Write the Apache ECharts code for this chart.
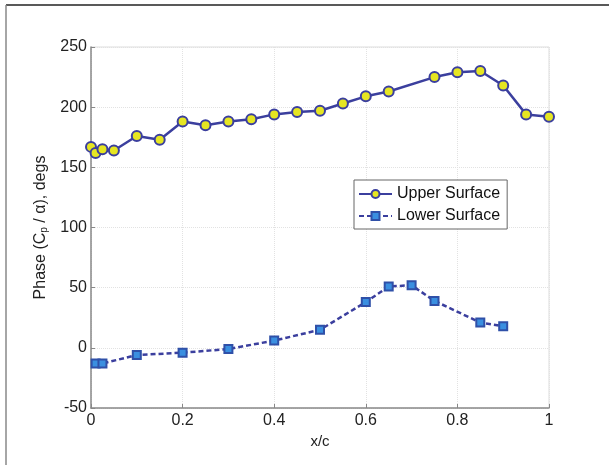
<!DOCTYPE html>
<html>
<head>
<meta charset="utf-8">
<script src="https://cdn.jsdelivr.net/npm/echarts@6/dist/echarts.min.js"></script>
<style>
  html, body { margin: 0; padding: 0; background: #fff; }
  #chart { width: 609px; height: 465px; }
</style>
</head>
<body>
<div id="chart"></div>
<script>
  // values
  var upperX = [0, 0.01, 0.025, 0.05, 0.1, 0.15, 0.2, 0.25, 0.3, 0.35, 0.4, 0.45, 0.5, 0.55, 0.6, 0.65, 0.75, 0.8, 0.85, 0.9, 0.95, 1.0];
  var upperY = [167, 162, 165, 164, 176, 173, 188, 185, 188, 190, 194, 196, 197, 203, 209, 213, 225, 229, 230, 218, 194, 192];
  var lowerX = [0.01, 0.025, 0.1, 0.2, 0.3, 0.4, 0.5, 0.6, 0.65, 0.7, 0.75, 0.85, 0.9];
  var lowerY = [-13, -13, -6, -4, -1, 6, 15, 38, 51, 52, 39, 21, 18];
  var xTicks = [0, 0.2, 0.4, 0.6, 0.8, 1];
  var yTicks = [-50, 0, 50, 100, 150, 200, 250];

  function pairs(xs, ys) {
    return xs.map(function (x, i) { return [x, ys[i]]; });
  }

  var chart = echarts.init(document.getElementById('chart'));
  var font = 'Liberation Sans, Arial, sans-serif';

  var option = {
    backgroundColor: '#fff',
    animation: false,
    textStyle: { fontFamily: font },
    grid: { left: 91, top: 47, right: 60, bottom: 57 },
    graphic: [
      { type: 'line', shape: { x1: 6, y1: 5, x2: 609, y2: 5 }, style: { stroke: '#222', lineWidth: 1.5 } },
      { type: 'line', shape: { x1: 6, y1: 5, x2: 6, y2: 465 }, style: { stroke: '#888', lineWidth: 1.5 } },
      { type: 'line', shape: { x1: 91, y1: 47, x2: 549, y2: 47 }, style: { stroke: '#ddd', lineWidth: 1 } },
      { type: 'line', shape: { x1: 549, y1: 47, x2: 549, y2: 408 }, style: { stroke: '#ddd', lineWidth: 1 } }
    ],
    legend: {
      orient: 'vertical',
      left: 354,
      top: 180,
      padding: [6, 7, 5, 4],
      itemGap: 6,
      itemWidth: 33,
      itemHeight: 10,
      borderColor: '#666',
      borderWidth: 1,
      backgroundColor: '#fff',
      textStyle: { fontSize: 16, color: '#111', fontFamily: font },
      data: ['Upper Surface', 'Lower Surface']
    },
    xAxis: {
      type: 'value',
      min: 0,
      max: 1,
      interval: 0.2,
      name: 'x/c',
      nameLocation: 'middle',
      nameGap: 26,
      nameTextStyle: { fontSize: 15, color: '#222' },
      axisLine: { show: true, onZero: false, lineStyle: { color: '#888', width: 1.5 } },
      axisTick: { show: true, inside: true, length: 4, lineStyle: { color: '#888' } },
      axisLabel: {
        fontSize: 16, color: '#222', margin: 5,
        formatter: function (v) { return xTicks.indexOf(Math.round(v * 10) / 10) >= 0 ? String(Math.round(v * 10) / 10) : ''; }
      },
      splitLine: { show: true, lineStyle: { color: '#e2e2e2', type: 'dotted', width: 1 } }
    },
    yAxis: {
      type: 'value',
      min: -50,
      max: 250,
      interval: 50,
      name: '{n|Phase (C}{s|p}{n| / α), degs}',
      nameLocation: 'middle',
      nameRotate: 90,
      nameGap: 34,
      nameTextStyle: {
        rich: {
          n: { fontSize: 16, color: '#222', fontFamily: font },
          s: { fontSize: 10, color: '#222', fontFamily: font, verticalAlign: 'bottom', padding: [7, 0, 0, 0] }
        }
      },
      axisLine: { show: true, onZero: false, lineStyle: { color: '#888', width: 1.5 } },
      axisTick: { show: true, inside: true, length: 4, lineStyle: { color: '#888' } },
      axisLabel: { fontSize: 16, color: '#222', margin: 4 },
      splitLine: { show: true, lineStyle: { color: '#e2e2e2', type: 'dotted', width: 1 } }
    },
    series: [
      {
        name: 'Upper Surface',
        type: 'line',
        data: pairs(upperX, upperY),
        symbol: 'circle',
        symbolSize: 10,
        lineStyle: { color: '#3b3f9e', width: 2.5 },
        itemStyle: { color: '#e6e622', borderColor: '#3b3f9e', borderWidth: 2 }
      },
      {
        name: 'Lower Surface',
        type: 'line',
        data: pairs(lowerX, lowerY),
        symbol: 'rect',
        symbolSize: 8,
        lineStyle: { color: '#3b3f9e', width: 2.5, type: [5, 3] },
        itemStyle: { color: '#3a8fe0', borderColor: '#2f50a8', borderWidth: 2 }
      }
    ]
  };

  chart.setOption(option);
</script>
</body>
</html>
